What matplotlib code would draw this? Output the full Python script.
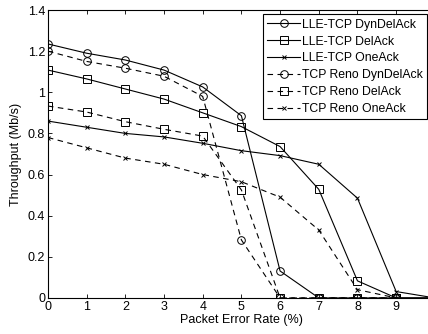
import matplotlib
matplotlib.use('Agg')
import matplotlib.pyplot as plt

plt.rcParams['font.family'] = ['Liberation Sans', 'DejaVu Sans']
plt.rcParams['font.size'] = 9

per = [0, 1, 2, 3, 4, 5, 6, 7, 8, 9, 10]

# LLE-TCP (heldragna linjer)
lle_dyn = [1.235, 1.19, 1.157, 1.108, 1.026, 0.886, 0.131, 0, 0, 0, 0]
lle_del = [1.108, 1.065, 1.016, 0.967, 0.90, 0.833, 0.736, 0.528, 0.083, 0, 0]
lle_one = [0.86, 0.83, 0.80, 0.783, 0.752, 0.716, 0.692, 0.65, 0.485, 0.031, 0]

# TCP Reno (streckade linjer)
reno_dyn = [1.20, 1.15, 1.117, 1.078, 0.98, 0.282, 0, 0, 0, 0]
reno_del = [0.933, 0.904, 0.857, 0.82, 0.787, 0.525, 0, 0, 0, 0]
reno_one = [0.78, 0.73, 0.68, 0.65, 0.60, 0.565, 0.49, 0.33, 0.04, 0]

xtick_labels = ['0', '1', '2', '3', '4', '5', '6', '7', '8', '9', '']
ytick_labels = ['0', '0.2', '0.4', '0.6', '0.8', '1', '1.2', '1.4']

fig = plt.figure(figsize=(4.28, 3.34), dpi=100)
ax = fig.add_axes([0.112, 0.108, 0.904, 0.862])

lw = 0.8
ax.plot(per, lle_dyn, 'k-', marker='o', mfc='none', ms=5.5, lw=lw, mew=0.7, label='LLE-TCP DynDelAck')
ax.plot(per, lle_del, 'k-', marker='s', mfc='none', ms=5.5, lw=lw, mew=0.7, label='LLE-TCP DelAck')
ax.plot(per, lle_one, 'k-', marker='x', ms=3, lw=lw, mew=0.7, label='LLE-TCP OneAck')
ax.plot(per[:10], reno_dyn, 'k--', marker='o', mfc='none', ms=5.5, lw=lw, mew=0.7, dashes=(5, 4), label='TCP Reno DynDelAck')
ax.plot(per[:10], reno_del, 'k--', marker='s', mfc='none', ms=5.5, lw=lw, mew=0.7, dashes=(5, 4), label='TCP Reno DelAck')
ax.plot(per[:10], reno_one, 'k--', marker='x', ms=3, lw=lw, mew=0.7, dashes=(5, 4), label='TCP Reno OneAck')

ax.set_xlim(0, 10)
ax.set_ylim(0, 1.4)
ax.set_xticks(range(0, 11))
ax.set_xticklabels(xtick_labels)
ax.set_yticks([0, 0.2, 0.4, 0.6, 0.8, 1, 1.2, 1.4])
ax.set_yticklabels(ytick_labels)
ax.tick_params(direction='in', top=True, right=True, length=3, width=0.6, pad=2)
for s in ax.spines.values():
    s.set_linewidth(0.8)

ax.set_xlabel('Packet Error Rate (%)', labelpad=1)
ax.set_ylabel('Throughput (Mb/s)', labelpad=4)

leg = ax.legend(loc='upper right', bbox_to_anchor=(0.998, 0.957), bbox_transform=fig.transFigure,
                fancybox=False, edgecolor='k', framealpha=1, handlelength=2.7, borderpad=0.35,
                labelspacing=0.4, handletextpad=0.15, borderaxespad=0.0, fontsize=8.8)
leg.get_frame().set_linewidth(0.8)

fig.savefig('out.png', dpi=100)
